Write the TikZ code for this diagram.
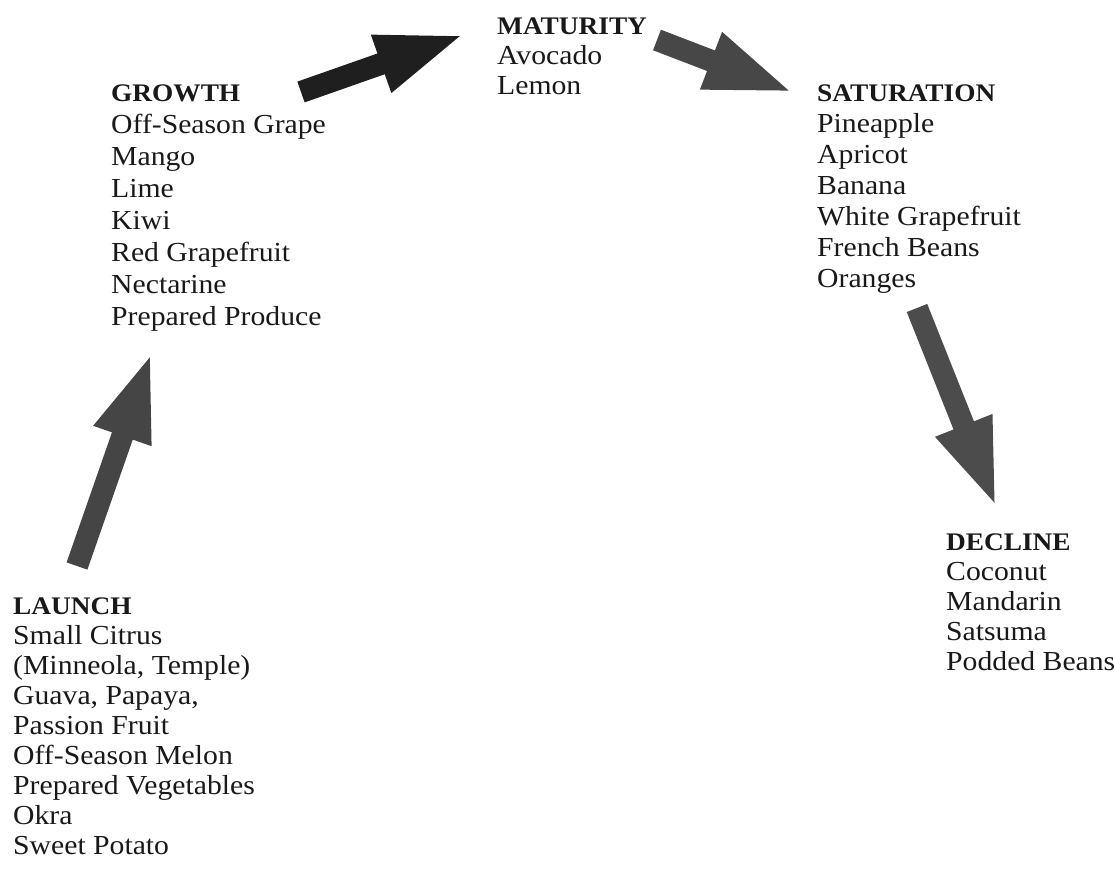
\documentclass[tikz,border=0pt]{standalone}
\usepackage{fontspec}
\setmainfont{Liberation Serif}[FakeStretch=1.08]
\usetikzlibrary{arrows.meta}

% stage headings are set a bit smaller than the lists
\newcommand{\stagehead}[1]{{\fontsize{25.3}{30}\selectfont\bfseries #1}}

\begin{document}
\begin{tikzpicture}[x=1pt, y=-1pt,
  stage/.style={anchor=north west, align=left, inner sep=0pt,
                font=\fontsize{27.5}{30}\selectfont, text=black!90},
  blockarr/.style={line width=22pt, -{Triangle[length=90pt, width=54pt]}},
]
  \useasboundingbox (0,0) rectangle (1116,876);
  % stages of the cycle
  \node[stage] (mat) at (497,18)  {\stagehead{MATURITY}\\Avocado\\Lemon};
  \node[stage, font=\fontsize{27.5}{32}\selectfont] (grow) at (111,85)
    {\stagehead{GROWTH}\\Off-Season Grape\\Mango\\Lime\\Kiwi\\Red Grapefruit\\Nectarine\\Prepared Produce};
  \node[stage, font=\fontsize{27.5}{31}\selectfont] (sat) at (817,85)
    {\stagehead{SATURATION}\\Pineapple\\Apricot\\Banana\\White Grapefruit\\French Beans\\Oranges};
  \node[stage] (dec) at (946,534) {\stagehead{DECLINE}\\Coconut\\Mandarin\\Satsuma\\Podded Beans};
  \node[stage] (lau) at (13,598)
    {\stagehead{LAUNCH}\\Small Citrus\\(Minneola, Temple)\\Guava, Papaya,\\Passion Fruit\\Off-Season Melon\\Prepared Vegetables\\Okra\\Sweet Potato};
  % arrow ends
  \coordinate (a1s) at (301,92);
  \coordinate (a1e) at (466,34);
  \coordinate (a2s) at (657,40);
  \coordinate (a2e) at (795,93);
  \coordinate (a3s) at (917,308);
  \coordinate (a3e) at (997,509);
  \coordinate (a4s) at (77,566);
  \coordinate (a4e) at (152,351);
  \draw[blockarr, draw=black!88, fill=black!88] (a1s) -- (a1e);
  \draw[blockarr, draw=black!72, fill=black!72] (a2s) -- (a2e);
  \draw[blockarr, draw=black!70, fill=black!70] (a3s) -- (a3e);
  \draw[blockarr, draw=black!73, fill=black!73] (a4s) -- (a4e);
\end{tikzpicture}
\end{document}
